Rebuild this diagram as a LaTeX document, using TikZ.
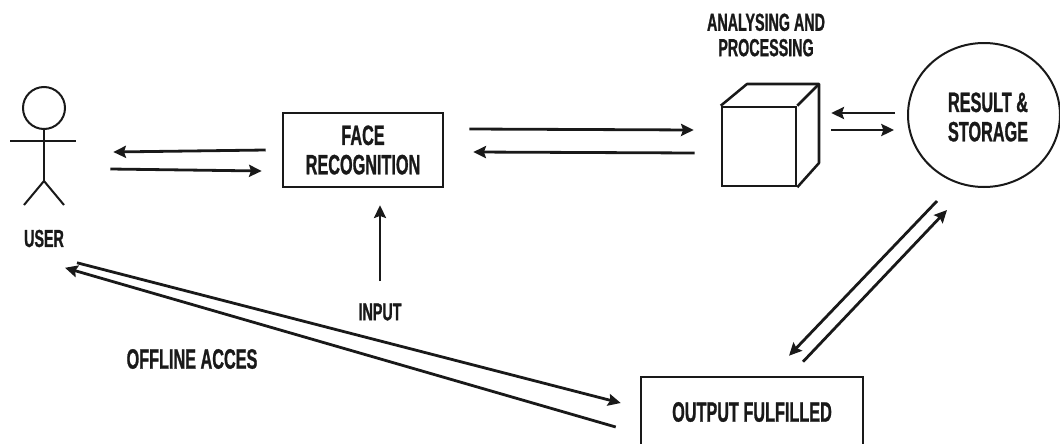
\documentclass[tikz,border=0pt]{standalone}
\usepackage{fontspec}
\setmainfont[FakeStretch=0.58,FakeBold=0.9]{Liberation Sans Bold}
\usetikzlibrary{arrows.meta,shapes.geometric}
\tikzset{
  ln/.style={draw=black!90,line width=1.9pt},
  thin ln/.style={draw=black!90,line width=1.5pt},
  arr/.style={draw=black!90,line width=2.1pt,-{Stealth[length=9.5pt,width=9pt,inset=1.5pt]}},
  lbl/.style={inner sep=0pt,font=\fontsize{18.5}{19}\selectfont,align=center,text=black!90},
  lblbig/.style={inner sep=0pt,font=\fontsize{21}{22}\selectfont,align=center,text=black!90},
  boxn/.style={ln,inner sep=0pt,align=center,font=\fontsize{21}{22}\selectfont,text=black!90},
}
\begin{document}
\begin{tikzpicture}[x=.75pt,y=-.75pt]
\useasboundingbox (0,0) rectangle (1060,443);
\clip (0,0) rectangle (1060,443);
% user figure
\node[minimum width=49.5pt,minimum height=88.5pt,inner sep=0pt] (user) at (43,146) {};
\node[thin ln,circle,minimum size=31.5pt,inner sep=0pt] (head) at (44,108) {};
\coordinate (hip) at (44,181);
\coordinate (armL) at (10,141);
\coordinate (armR) at (76,141);
\coordinate (legL) at (24,205);
\coordinate (legR) at (64,205);
\draw[thin ln] (head.south) -- (hip);
\draw[thin ln] (armL) -- (armR);
\draw[thin ln] (legL) -- (hip) -- (legR);
\node[lbl] (userl) at (44,238.5) {USER};
% face
\node[boxn,minimum width=120pt,minimum height=55.5pt] (face) at (363,150) {FACE\\RECOGNITION};
% cube
\node[ln,minimum width=55.5pt,minimum height=59.25pt,inner sep=0pt] (cube) at (759,146.5) {};
\coordinate (b1) at (747,84);
\coordinate (b2) at (819,84);
\coordinate (b3) at (819,163);
\draw[ln,line join=round] (cube.north west) -- (b1) -- (b2) -- (b3) -- (cube.south east);
\draw[ln] (cube.north east) -- (b2);
\node[lbl] (analysing) at (766,35) {ANALYSING AND\\PROCESSING};
% result
\node[thin ln,ellipse,minimum width=114pt,minimum height=108pt,inner sep=0pt] (res) at (984,115) {};
\node[lblbig] (resl) at (988,117) {RESULT \&\\STORAGE};
% output
\node[boxn,minimum width=166.5pt,minimum height=52.5pt] (out) at (752,412) {OUTPUT FULFILLED};
% labels
\node[lbl] (input) at (380,312) {INPUT};
\node[lblbig] (off) at (192,359) {OFFLINE ACCES};
% connectors
\draw[arr] ([shift={(-16,0)}]face.west) -- ([shift={(37,6)}]user.east);
\draw[arr] ([shift={(34,23)}]user.east) -- ([shift={(-20,21)}]face.west);
\draw[arr] ([shift={(25,-21)}]face.east) -- ([shift={(-27,-16.5)}]cube.west);
\draw[arr] ([shift={(-26,6.5)}]cube.west) -- ([shift={(29,2)}]face.east);
\draw[arr] ([shift={(-12,-2)}]res.west) -- ([shift={(34,-33.5)}]cube.east);
\draw[arr] ([shift={(34,-16.5)}]cube.east) -- ([shift={(-13,15)}]res.west);
\draw[arr] ([shift={(-47,13)}]res.south) -- ([shift={(37,-20)}]out.north);
\draw[arr] ([shift={(51,-14)}]out.north) -- ([shift={(-37,22)}]res.south);
\draw[arr] ([shift={(-24,15)}]out.west) -- ([shift={(22,62.5)}]user.south);
\draw[arr] ([shift={(34,57.5)}]user.south) -- ([shift={(-19,-9)}]out.west);
\draw[arr] ([shift={(0,-22)}]input.north) -- ([shift={(17,17)}]face.south);
\end{tikzpicture}
\end{document}
